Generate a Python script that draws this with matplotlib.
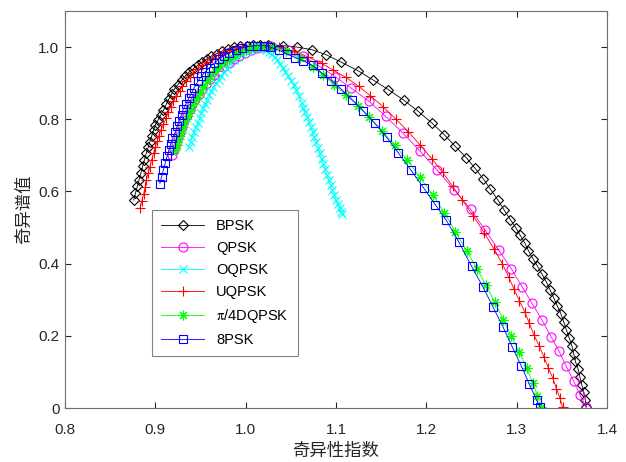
import matplotlib
matplotlib.use("Agg")
import matplotlib.pyplot as plt

plt.rcParams['font.family'] = ['Liberation Sans', 'DejaVu Sans']
plt.rcParams['mathtext.fontset'] = 'stix'

# singularity index (alpha) / spectrum value f(alpha) per modulation
bpsk_x = [0.876, 0.878, 0.880, 0.882, 0.884, 0.886, 0.888, 0.890, 0.892, 0.894,
          0.896, 0.898, 0.900, 0.903, 0.906, 0.909, 0.912, 0.915, 0.918, 0.921,
          0.925, 0.929, 0.933, 0.937, 0.942, 0.947, 0.952, 0.957, 0.962, 0.968,
          0.974, 0.980, 0.987, 0.994, 1.001, 1.008, 1.016, 1.025, 1.041, 1.057,
          1.073, 1.089, 1.106, 1.124, 1.141, 1.158, 1.175, 1.191, 1.206, 1.220,
          1.232, 1.244, 1.254, 1.263, 1.271, 1.279, 1.286, 1.293, 1.299, 1.304,
          1.309, 1.313, 1.318, 1.323, 1.328, 1.333, 1.337, 1.341, 1.345, 1.349,
          1.352, 1.355, 1.358, 1.361, 1.363, 1.365, 1.368, 1.370, 1.372, 1.374,
          1.376, 1.377]
bpsk_y = [0.576, 0.595, 0.614, 0.632, 0.651, 0.670, 0.688, 0.706, 0.722, 0.738,
          0.754, 0.770, 0.784, 0.798, 0.812, 0.825, 0.841, 0.856, 0.870, 0.883,
          0.896, 0.908, 0.919, 0.930, 0.940, 0.950, 0.959, 0.967, 0.975, 0.982,
          0.989, 0.995, 0.999, 1.002, 1.004, 1.005, 1.005, 1.005, 1.004, 1.000,
          0.993, 0.979, 0.958, 0.935, 0.909, 0.882, 0.853, 0.822, 0.790, 0.757,
          0.725, 0.694, 0.664, 0.635, 0.606, 0.577, 0.549, 0.522, 0.500, 0.478,
          0.457, 0.436, 0.414, 0.393, 0.371, 0.349, 0.327, 0.305, 0.283, 0.261,
          0.239, 0.217, 0.195, 0.173, 0.151, 0.129, 0.108, 0.086, 0.065, 0.043,
          0.022, 0.002]

qpsk_x = [0.919, 0.921, 0.923, 0.925, 0.927, 0.930, 0.932, 0.935, 0.938, 0.941,
          0.944, 0.948, 0.952, 0.956, 0.960, 0.965, 0.970, 0.975, 0.981, 0.987,
          0.993, 0.999, 1.006, 1.013, 1.020, 1.028, 1.047, 1.064, 1.080, 1.099,
          1.117, 1.136, 1.155, 1.174, 1.193, 1.212, 1.231, 1.249, 1.265, 1.280,
          1.294, 1.306, 1.317, 1.328, 1.338, 1.347, 1.355, 1.363, 1.370, 1.377]
qpsk_y = [0.700, 0.717, 0.734, 0.750, 0.766, 0.782, 0.798, 0.813, 0.828, 0.843,
          0.857, 0.871, 0.885, 0.898, 0.911, 0.923, 0.935, 0.946, 0.957, 0.967,
          0.976, 0.984, 0.991, 0.997, 1.001, 1.002, 0.993, 0.975, 0.950, 0.918,
          0.886, 0.851, 0.808, 0.762, 0.712, 0.659, 0.604, 0.551, 0.493, 0.438,
          0.386, 0.336, 0.290, 0.244, 0.198, 0.157, 0.115, 0.075, 0.037, 0.002]

oqpsk_x = [0.937, 0.939, 0.941, 0.943, 0.945, 0.947, 0.949, 0.951, 0.953, 0.955,
           0.957, 0.959, 0.962, 0.964, 0.967, 0.970, 0.973, 0.976, 0.979, 0.983,
           0.987, 0.991, 0.996, 1.001, 1.006, 1.010, 1.014, 1.017, 1.020, 1.023,
           1.026, 1.029, 1.032, 1.035, 1.038, 1.041, 1.044, 1.047, 1.050, 1.053,
           1.056, 1.059, 1.062, 1.064, 1.066, 1.068, 1.070, 1.072, 1.074, 1.076,
           1.078, 1.080, 1.082, 1.084, 1.086, 1.088, 1.090, 1.092, 1.094, 1.096,
           1.098, 1.100, 1.102, 1.104, 1.106, 1.107]
oqpsk_y = [0.724, 0.737, 0.751, 0.764, 0.778, 0.791, 0.804, 0.817, 0.830, 0.842,
           0.854, 0.866, 0.878, 0.889, 0.900, 0.910, 0.920, 0.930, 0.939, 0.955,
           0.964, 0.972, 0.980, 0.987, 0.993, 0.997, 1.000, 0.999, 0.996, 0.992,
           0.987, 0.980, 0.972, 0.963, 0.953, 0.942, 0.931, 0.919, 0.907, 0.894,
           0.880, 0.864, 0.844, 0.832, 0.820, 0.807, 0.793, 0.779, 0.765, 0.750,
           0.736, 0.721, 0.706, 0.691, 0.676, 0.661, 0.646, 0.631, 0.617, 0.603,
           0.589, 0.576, 0.564, 0.553, 0.543, 0.538]

uqpsk_x = [0.883, 0.885, 0.887, 0.889, 0.890, 0.892, 0.894, 0.896, 0.898, 0.900,
           0.902, 0.904, 0.906, 0.909, 0.912, 0.914, 0.917, 0.920, 0.923, 0.927,
           0.930, 0.934, 0.938, 0.942, 0.947, 0.952, 0.957, 0.963, 0.969, 0.975,
           0.982, 0.989, 0.996, 1.004, 1.012, 1.020, 1.028, 1.037, 1.053, 1.069,
           1.084, 1.097, 1.111, 1.125, 1.138, 1.152, 1.166, 1.180, 1.193, 1.206,
           1.218, 1.229, 1.240, 1.252, 1.264, 1.275, 1.284, 1.291, 1.297, 1.303,
           1.309, 1.314, 1.319, 1.325, 1.330, 1.335, 1.340, 1.344, 1.348, 1.351]
uqpsk_y = [0.553, 0.573, 0.593, 0.613, 0.632, 0.651, 0.669, 0.688, 0.706, 0.723,
           0.739, 0.755, 0.770, 0.786, 0.803, 0.819, 0.835, 0.850, 0.864, 0.878,
           0.893, 0.906, 0.918, 0.929, 0.940, 0.950, 0.960, 0.969, 0.977, 0.985,
           0.991, 0.996, 1.000, 1.003, 1.004, 1.004, 1.002, 0.999, 0.989, 0.973,
           0.955, 0.936, 0.916, 0.892, 0.865, 0.835, 0.801, 0.766, 0.729, 0.691,
           0.653, 0.615, 0.576, 0.532, 0.486, 0.440, 0.400, 0.364, 0.330, 0.297,
           0.266, 0.235, 0.203, 0.172, 0.142, 0.112, 0.083, 0.054, 0.027, 0.002]

dqpsk_x = [0.922, 0.924, 0.926, 0.928, 0.931, 0.933, 0.936, 0.939, 0.942, 0.945,
           0.949, 0.953, 0.957, 0.961, 0.966, 0.971, 0.976, 0.982, 0.988, 0.994,
           1.000, 1.006, 1.012, 1.018, 1.030, 1.045, 1.060, 1.075, 1.086, 1.098,
           1.111, 1.124, 1.137, 1.151, 1.165, 1.179, 1.193, 1.207, 1.220, 1.232,
           1.245, 1.256, 1.266, 1.276, 1.285, 1.294, 1.303, 1.311, 1.318, 1.323,
           1.327]
dqpsk_y = [0.714, 0.730, 0.746, 0.762, 0.778, 0.794, 0.810, 0.826, 0.842, 0.856,
           0.872, 0.890, 0.906, 0.920, 0.934, 0.947, 0.958, 0.968, 0.978, 0.986,
           0.992, 0.997, 1.000, 1.002, 1.000, 0.990, 0.970, 0.945, 0.922, 0.896,
           0.868, 0.838, 0.805, 0.767, 0.728, 0.687, 0.639, 0.591, 0.541, 0.489,
           0.434, 0.386, 0.340, 0.293, 0.245, 0.199, 0.155, 0.111, 0.069, 0.033,
           0.003]

psk8_x = [0.905, 0.907, 0.909, 0.911, 0.913, 0.915, 0.917, 0.919, 0.922, 0.924,
          0.926, 0.929, 0.931, 0.934, 0.937, 0.940, 0.943, 0.947, 0.951, 0.955,
          0.960, 0.965, 0.970, 0.976, 0.982, 0.989, 0.996, 1.004, 1.012, 1.020,
          1.027, 1.037, 1.046, 1.055, 1.064, 1.074, 1.084, 1.095, 1.106, 1.118,
          1.130, 1.143, 1.156, 1.169, 1.183, 1.197, 1.210, 1.222, 1.236, 1.250,
          1.263, 1.274, 1.285, 1.295, 1.305, 1.314, 1.322, 1.326]
psk8_y = [0.622, 0.641, 0.660, 0.679, 0.697, 0.715, 0.732, 0.748, 0.764, 0.780,
          0.796, 0.812, 0.828, 0.843, 0.858, 0.873, 0.887, 0.905, 0.919, 0.931,
          0.943, 0.955, 0.966, 0.976, 0.985, 0.992, 0.998, 1.002, 1.004, 1.004,
          1.000, 0.991, 0.981, 0.971, 0.962, 0.949, 0.929, 0.907, 0.883, 0.854,
          0.824, 0.789, 0.750, 0.707, 0.659, 0.610, 0.563, 0.521, 0.460, 0.393,
          0.334, 0.279, 0.224, 0.170, 0.117, 0.066, 0.022, 0.002]

series = [
    ("BPSK", bpsk_x, bpsk_y, "k", "D", 5.0),
    ("QPSK", qpsk_x, qpsk_y, "#ff00ff", "o", 6.5),
    ("OQPSK", oqpsk_x, oqpsk_y, "#00ffff", "x", 5.5),
    ("UQPSK", uqpsk_x, uqpsk_y, "#ff0000", "+", 7.5),
    (r"$\mathrm{\pi}$/4DQPSK", dqpsk_x, dqpsk_y, "#00ff00", (8, 2, 0), 7.0),
    ("8PSK", psk8_x, psk8_y, "#0000ff", "s", 5.5),
]

fig = plt.figure(figsize=(6.26, 4.62), dpi=100)
ax = fig.add_axes([65 / 626, 54 / 462, 542 / 626, 397 / 462])

for name, xs, ys, c, m, ms in series:
    ax.plot(xs, ys, color=c, lw=0.6, marker=m, ms=ms, mfc="none",
            mec=c, mew=0.8, label=name)

ax.set_xlim(0.8, 1.4)
ax.set_ylim(0, 1.1)
ax.set_xticks([0.8, 0.9, 1.0, 1.1, 1.2, 1.3, 1.4])
ax.set_xticklabels(["0.8", "0.9", "1.0", "1.1", "1.2", "1.3", "1.4"])
ax.set_yticks([0, 0.2, 0.4, 0.6, 0.8, 1.0])
ax.set_yticklabels(["0", "0.2", "0.4", "0.6", "0.8", "1.0"])

ax.tick_params(axis="both", direction="in", length=4, width=0.8,
               top=True, right=True, labelsize=11, colors="#262626")
ax.tick_params(axis="x", pad=11)
ax.tick_params(axis="y", pad=4)
for sp in ax.spines.values():
    sp.set_color("#6e6e6e")
    sp.set_linewidth(0.8)

cjk = ["Noto Sans CJK SC", "DejaVu Sans"]
ax.set_xlabel("奇异性指数", family=cjk, fontsize=12.5, color="#262626", labelpad=3)
ax.set_ylabel("奇异谱值", family=cjk, fontsize=12.5, color="#262626", labelpad=4)

leg = ax.legend(loc="upper left", bbox_to_anchor=(0.1605, 0.499), fontsize=10.5,
                frameon=True, fancybox=False, framealpha=1, edgecolor="#808080",
                handlelength=3.0, labelspacing=0.55, borderpad=0.6,
                borderaxespad=0)
leg.get_frame().set_linewidth(0.8)

fig.savefig("out.png", dpi=100)
